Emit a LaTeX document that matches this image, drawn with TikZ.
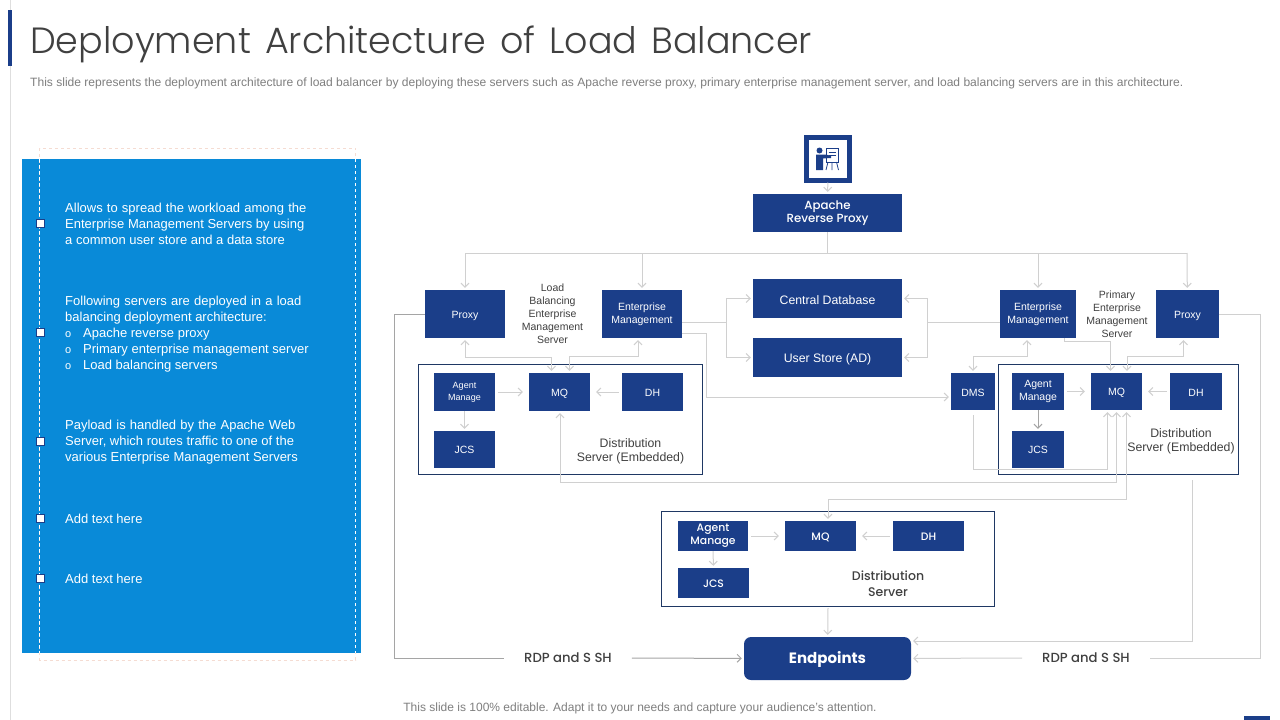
\documentclass[tikz,border=0pt]{standalone}
\usepackage{fontspec}
\setmainfont{Liberation Sans}
\newfontfamily\gothic{Poppins}
\newfontfamily\gothiclight{Poppins Light}
\newfontfamily\gothicmed{Poppins Medium}
\usetikzlibrary{positioning,arrows.meta,calc}
\definecolor{navy}{RGB}{27,62,137}
\definecolor{panelblue}{RGB}{9,138,216}
\definecolor{framenavy}{RGB}{31,56,100}
\definecolor{wire}{RGB}{208,208,208}
\definecolor{wiredark}{RGB}{165,165,165}
\definecolor{labelgrey}{RGB}{64,64,64}
\definecolor{notegrey}{RGB}{127,127,127}
\definecolor{dashpink}{RGB}{245,220,210}
\newcommand{\widewords}{\spaceskip=4.2pt\relax}
\newcommand{\listline}[1]{\makebox[18pt][l]{\fontsize{11}{16}\selectfont o}#1}
\tikzset{
  >={Straight Barb[length=4pt,width=8pt]},
  nudge/.style={execute at begin node={\rule{0pt}{#1}}},
  box/.style={fill=navy,text=white,align=center,inner sep=0pt,font=\fontsize{10.5}{13}\selectfont},
  gbox/.style={box,nudge=9.5pt,font=\gothicmed\fontsize{10.8}{13}\selectfont},
  frame/.style={draw=framenavy,line width=1pt,inner sep=0pt},
  lbl/.style={text=labelgrey,align=center,inner sep=0pt},
  panel/.style={text=white,align=left,anchor=west,inner sep=0pt,font=\fontsize{13}{16}\selectfont},
  handle/.style={draw=navy,fill=white,line width=1pt,minimum size=8pt,inner sep=0pt},
  flow/.style={->,draw=wire,line width=1pt,shorten >=2pt},
  gap/.style={shorten <=3pt,shorten >=6pt},
  flowboth/.style={<->,draw=wire,line width=1pt,shorten >=2pt,shorten <=2pt},
  plain/.style={draw=wire,line width=1pt}
}
\begin{document}
\begin{tikzpicture}[x=1pt,y=-1pt]
      \useasboundingbox (0,0) rectangle (1280,720);
      \fill[white] (0,0) rectangle (1280,720);
      % header
      \fill[wire!70] (10,0) rectangle (11,720);
      \fill[navy] (8,10) rectangle (12,66);
      \node[anchor=base west,inner sep=0pt,text=labelgrey] (title) at (30,53)
      {\gothiclight\fontsize{36.5}{38}\selectfont\spaceskip=14pt\relax Deployment Architecture of Load Balancer};
      \node[anchor=base west,inner sep=0pt,text=notegrey] (subtitle) at (30,86)
      {\fontsize{12.05}{14}\selectfont This slide represents the deployment architecture of load balancer by deploying these servers such as Apache reverse proxy,  primary enterprise management server, and load balancing servers are in this architecture.};
      \node[text=notegrey,inner sep=0pt] (footer) at (640,708)
      {\fontsize{12}{14}\selectfont This slide is 100\% editable. Adapt it to your needs and capture your audience's attention.};
      \fill[navy] (1244,716) rectangle (1270,720);

      % left panel
      \fill[panelblue] (22,159) rectangle (361,653);
      \draw[dashpink,dashed] (39.5,148) rectangle (355.5,660);
      \draw[white,dashed] (39.5,159) -- (39.5,653);
      \draw[white,dashed] (355.5,159) -- (355.5,653);
      \foreach \y/\n in {223/a,332/b,441/c,518/d,578/e}
        \node[handle] (handle\n) at (40,\y) {};
      \node[panel] (texta) at (65,223.5) {\widewords Allows to spread the workload among the\\Enterprise Management Servers by using\\a common user store and a data store};
      \node[panel] (textb) at (65,334) {\widewords Following servers are deployed in a load\\balancing deployment architecture:\\\listline{Apache reverse proxy}\\\listline{Primary enterprise management server}\\\listline{Load balancing servers}};
      \node[panel] (textc) at (65,442.5) {\widewords Payload is handled by the Apache Web\\Server, which routes traffic to one of the\\various Enterprise Management Servers};
      \node[panel] (textd) at (65,518.5) {Add text here};
      \node[panel] (texte) at (65,578.5) {Add text here};

      % top
      \node[draw=navy,line width=5pt,fill=white,minimum size=43pt,inner sep=0pt] (icon) at (828,158.5) {};
      \fill[navy] (819.5,150.5) circle (3);
      \fill[navy] (816,154.5) -- (826,154.5) -- (831,156) -- (831,158) -- (823,158.5) -- (823,170) -- (816,170) -- cycle;
      \draw[navy,line width=.8pt] (826,148) rectangle (838.5,162);
      \draw[navy,line width=.8pt] (828.5,152) -- (836,152) (828.5,155) -- (836,155);
      \draw[navy,line width=.8pt] (828,162) -- (826,170) (832,162) -- (832,170) (836.5,162) -- (838.5,170);
      \node[gbox,nudge=17pt,font=\gothicmed\fontsize{11.8}{13}\selectfont,minimum width=149pt,minimum height=38pt] (apache) at (827.5,213) {Apache\\Reverse Proxy};

      % centre
      \node[box,nudge=11.8pt,minimum width=149pt,minimum height=39pt,font=\fontsize{12.3}{14}\selectfont] (centraldb) at (827.5,298.5) {Central Database};
      \node[box,nudge=11.8pt,minimum width=149pt,minimum height=39pt,font=\fontsize{12.3}{14}\selectfont] (userstore) at (827.5,357.5) {User Store (AD)};

      % left server
      \node[box,nudge=11.5pt,minimum width=80pt,minimum height=48pt] (proxyL) at (465,314) {Proxy};
      \node[box,minimum width=80pt,minimum height=48pt] (emgmtL) at (642,314) {Enterprise\\Management};
      \node[lbl,font=\fontsize{10.5}{13}\selectfont] (lbL) at (552.5,314) {Load\\Balancing\\Enterprise\\Management\\Server};
      \node[frame,minimum width=284pt,minimum height=110pt] (distL) at (560.5,419.5) {};
      \node[box,nudge=12pt,minimum width=61pt,minimum height=38pt,font=\fontsize{9}{12}\selectfont] (agentL) at (464.5,392) {Agent\\Manage};
      \node[box,nudge=11.5pt,minimum width=61pt,minimum height=38pt] (mqL) at (559.5,392) {MQ};
      \node[box,nudge=9.5pt,minimum width=61pt,minimum height=38pt] (dhL) at (652.5,392) {DH};
      \node[box,minimum width=61pt,minimum height=37pt] (jcsL) at (464.5,449.5) {JCS};
      \node[lbl,font=\fontsize{12.3}{14}\selectfont] (distlblL) at (630.5,451) {Distribution\\Server (Embedded)};

      % right server
      \node[box,minimum width=76pt,minimum height=48pt] (emgmtR) at (1038,314) {Enterprise\\Management};
      \node[box,nudge=11.5pt,minimum width=63pt,minimum height=48pt] (proxyR) at (1187.5,314) {Proxy};
      \node[lbl,font=\fontsize{10.5}{13}\selectfont] (pemR) at (1117,314) {Primary\\Enterprise\\Management\\Server};
      \node[box,nudge=9.5pt,minimum width=44pt,minimum height=37pt] (dms) at (973,391.5) {DMS};
      \node[frame,minimum width=240pt,minimum height=110pt] (distR) at (1118.5,419.5) {};
      \node[box,nudge=15.5pt,minimum width=52pt,minimum height=37pt] (agentR) at (1038,391.5) {Agent\\Manage};
      \node[box,nudge=9.5pt,minimum width=51pt,minimum height=37pt] (mqR) at (1116.5,391.5) {MQ};
      \node[box,nudge=9.5pt,minimum width=52pt,minimum height=37pt] (dhR) at (1196,391.5) {DH};
      \node[box,minimum width=52pt,minimum height=37pt] (jcsR) at (1038,449.5) {JCS};
      \node[lbl,font=\fontsize{12.3}{14}\selectfont] (distlblR) at (1181,441) {Distribution\\Server (Embedded)};

      % bottom server
      \node[frame,minimum width=333pt,minimum height=95pt] (distB) at (828,559) {};
      \node[gbox,nudge=17pt,minimum width=70pt,minimum height=30pt] (agentB) at (713,536) {Agent\\Manage};
      \node[gbox,minimum width=71pt,minimum height=30pt] (mqB) at (820.5,536) {MQ};
      \node[gbox,minimum width=71pt,minimum height=30pt] (dhB) at (928.5,536) {DH};
      \node[gbox,minimum width=71pt,minimum height=30pt] (jcsB) at (713.5,583) {JCS};
      \node[lbl,font=\gothicmed\fontsize{12.5}{16}\selectfont] (distlblB) at (888,583.5) {Distribution\\Server};

      % endpoints
      \node[gbox,nudge=14.5pt,rounded corners=7pt,minimum width=167pt,minimum height=43pt,font=\gothic\bfseries\fontsize{15}{18}\selectfont] (endpoints) at (827.5,658.5) {Endpoints};
      \node[lbl,inner xsep=20pt,fill=white,font=\gothicmed\fontsize{13.2}{14}\selectfont] (rdpL) at (568,658) {RDP and S SH};
      \node[lbl,inner xsep=20pt,fill=white,font=\gothicmed\fontsize{13.2}{14}\selectfont] (rdpR) at (1086,658) {RDP and S SH};

      % connectors
      \coordinate (busL) at (465,253);
      \coordinate (busR) at (1187,253);
      \draw[flow] (icon) -- (apache);
      \draw[plain] (apache) -- (827.5,253);
      \draw[plain] (busL) -- (busR);
      \draw[flow] (busL) -- (proxyL);
      \draw[flow] (busL -| emgmtL) -- (emgmtL);
      \draw[flow] (busL -| emgmtR) -- (emgmtR);
      \draw[flow] (busR) -- (proxyR);

      \draw[flowboth] (proxyL.south) -- ++(0,19) -| ($(mqL.north)+(-8,0)$);
      \draw[flowboth] ($(emgmtL.south)+(-4,0)$) -- ++(0,18) -| ($(mqL.north)+(10,0)$);
      \draw[flow,gap] (agentL) -- (mqL);
      \draw[flow,gap] (dhL) -- (mqL);
      \draw[flow] (agentL) -- (jcsL);

      \coordinate (splitL) at (726.5,322);
      \draw[plain] ($(emgmtL.east)+(0,8)$) -- (splitL);
      \draw[flow] (splitL) |- (centraldb);
      \draw[flow] (splitL) |- (userstore);
      \draw[flow] ($(emgmtL.east)+(0,19)$) -- (706,333) |- ($(dms.west)+(0,5.5)$);

      \coordinate (splitR) at (927.5,322);
      \draw[plain] ($(emgmtR.west)+(0,8)$) -- (splitR);
      \draw[flow] (splitR) |- (centraldb);
      \draw[flow] (splitR) |- (userstore);

      \draw[flowboth] ($(emgmtR.south)+(-11,0)$) -- ++(0,18) -| (dms);
      \draw[flow] ($(emgmtR.south)+(26,0)$) -- ++(0,3) -| ($(mqR.north)+(-6,0)$);
      \draw[flowboth] ($(proxyR.south)+(-4,0)$) -- ++(0,18) -| ($(mqR.north)+(10.5,0)$);
      \draw[flow,gap] (agentR) -- (mqR);
      \draw[flow,gap] (dhR) -- (mqR);
      \draw[->,draw=wiredark,line width=1pt,shorten >=2pt] (agentR) -- (jcsR);

      \draw[flow] ($(dms.south)+(0,5)$) -- ++(0,54.5) -| ($(mqR.south)+(-9,0)$);
      \draw[flowboth] ($(mqL.south)+(0.5,0)$) -- ++(0,71) -| (mqR.south);
      \draw[flowboth] ($(mqR.south)+(10,0)$) |- (828,499.5) -- ($(mqB.north)+(7.5,0)$);
      \draw[flow] ($(distB.south)+(0,1)$) -- (endpoints);
      \draw[flow,gap] (agentB) -- (mqB);
      \draw[flow,gap] (dhB) -- (mqB);
      \draw[flow] (agentB) -- (jcsB);

      \draw[flow] (1192.5,480) |- ($(endpoints.east)+(0,-17.5)$);
      \draw[draw=wiredark,line width=1pt] (proxyL) -| (394.5,658) -- (rdpL);
      \draw[->,draw=wiredark,line width=1pt,shorten >=2pt] (rdpL) -- (endpoints);
      \draw[plain] (proxyR) -| (1260.5,658) -- (rdpR);
      \draw[flow] (rdpR) -- (endpoints);
    \end{tikzpicture}
\end{document}
